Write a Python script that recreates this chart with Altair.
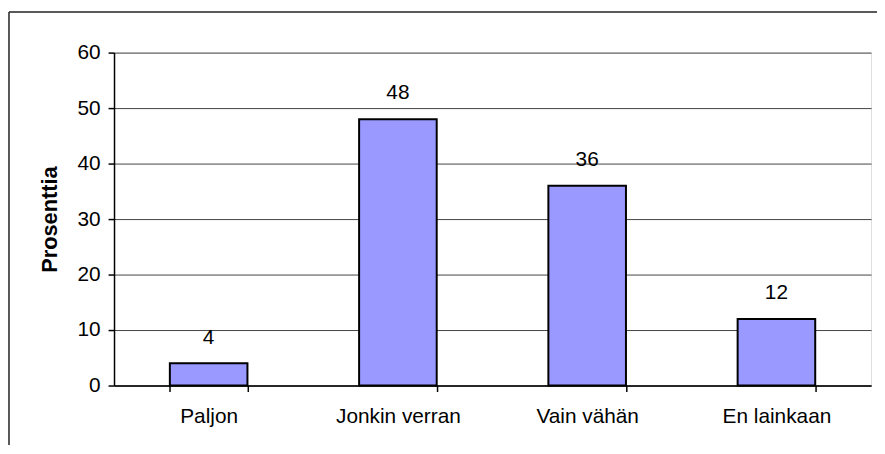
import altair as alt
import pandas as pd

categories = ["Paljon", "Jonkin verran", "Vain vähän", "En lainkaan"]
values = [4, 48, 36, 12]
y_ticks = [0, 10, 20, 30, 40, 50, 60]
y_title = "Prosenttia"

df = pd.DataFrame({"cat": categories, "val": values})
FONT = "Liberation Sans"

x_enc = alt.X(
    "cat:N",
    sort=categories,
    scale=alt.Scale(paddingInner=0.59, paddingOuter=0.295),
    axis=alt.Axis(
        title=None, labelAngle=0, labelFont=FONT, labelFontSize=21, labelColor="black",
        domainColor="black", domainWidth=1.5, tickColor="black", tickSize=6, tickWidth=1.5,
        tickBand="extent", labelPadding=14,
    ),
)
y_enc = alt.Y(
    "val:Q",
    scale=alt.Scale(domain=[0, 60], nice=False),
    axis=alt.Axis(
        title=y_title, values=y_ticks, titleFont=FONT, titleFontSize=22, titleFontWeight="bold",
        titleColor="black", titlePadding=16, labelFont=FONT, labelFontSize=21, labelColor="black",
        labelPadding=8, domainColor="black", domainWidth=1.5, tickColor="black", tickSize=6,
        tickWidth=1.5, grid=True, gridColor="#444444", gridWidth=1,
    ),
)

bars = alt.Chart(df).mark_bar(color="#9999FF", stroke="black", strokeWidth=2).encode(x=x_enc, y=y_enc)
labels = alt.Chart(df).mark_text(dy=-20, baseline="alphabetic", font=FONT, fontSize=21, color="black").encode(
    x=alt.X("cat:N", sort=categories), y="val:Q", text="val:Q"
)

frame_data = alt.Data(values=[{"k": 1}])
frame_left = alt.Chart(frame_data).mark_rule(color="#222222", strokeWidth=1.5).encode(
    x=alt.value(-106), y=alt.value(-41), y2=alt.value(420)
)
frame_top = alt.Chart(frame_data).mark_rule(color="#222222", strokeWidth=1.5).encode(
    x=alt.value(-106), x2=alt.value(780), y=alt.value(-41)
)

chart = alt.layer(bars, labels, frame_left, frame_top).properties(
    width=764, height=336,
    autosize=alt.AutoSizeParams(type="none"),
    padding={"left": 107, "top": 43, "right": 6, "bottom": 58},
).configure_view(stroke="#808080", strokeWidth=1.5).configure(background="white")

chart.save("out.html", embed_options={"renderer": "svg", "actions": False})
